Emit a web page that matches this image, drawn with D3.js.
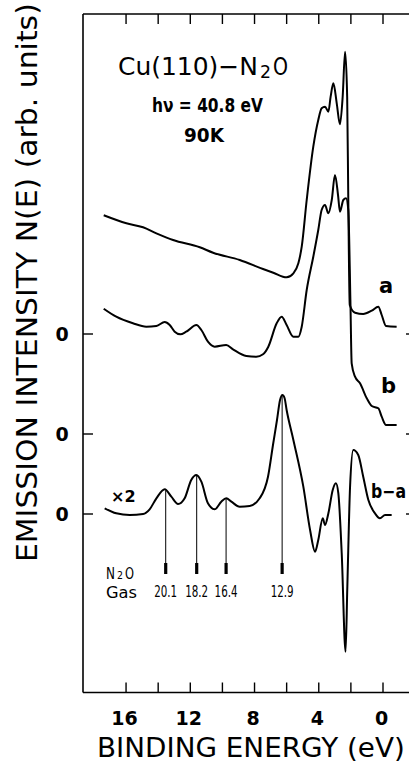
<!DOCTYPE html>
<html>
<head>
<meta charset="utf-8">
<script src="https://cdn.jsdelivr.net/npm/d3@7"></script>
<style>
  html, body { margin: 0; padding: 0; background: #fff; }
  svg { display: block; }
  text { fill: #000; font-family: "DejaVu Sans", sans-serif; }
</style>
</head>
<body>
<svg id="chart" width="409" height="763"></svg>
<script>
// ---------- DATA (binding energy in eV, intensity in arb. units above each curve's zero) ----------
const energyTicks = [16, 14, 12, 10, 8, 6, 4, 2, 0];
const energyTickLabels = [16, 12, 8, 4, 0];

// curve a : clean Cu(110)
const curveA = [
  [17.36, 11.87], [15.95, 11.07], [14.91, 10.67], [14.08, 10.07], [13.04, 9.40],
  [11.38, 8.67], [10.55, 8.13], [8.89, 7.40], [7.44, 6.50], [6.80, 6.13],
  [5.97, 5.67], [5.55, 6.07], [5.24, 7.07], [5.03, 8.73], [4.72, 13.4],
  [4.31, 18.73], [4.00, 21.4], [3.79, 22.57], [3.58, 22.73], [3.37, 22.23],
  [3.23, 23.73], [3.06, 25.07], [2.85, 23.07], [2.65, 20.97], [2.48, 23.73],
  [2.33, 28.23], [2.20, 23.73], [2.13, 13.4], [2.04, 2.9], [1.71, 2.13],
  [1.20, 2.00], [0.67, 2.33], [0.26, 2.73], [0.05, 1.90], [-0.22, 0.80], [-0.88, 0.73]
];

// curve b : Cu(110) + N2O at 90 K
const curveB = [
  [17.36, 12.53], [16.58, 11.73], [15.54, 11.07], [14.71, 10.73], [14.08, 10.80],
  [13.56, 11.20], [13.25, 10.90], [12.94, 10.23], [12.59, 9.97], [12.22, 10.23],
  [11.59, 10.90], [11.28, 10.40], [10.87, 9.23], [10.45, 8.73], [9.73, 8.90],
  [9.31, 8.47], [8.48, 7.80], [7.86, 7.73], [7.44, 7.97], [7.11, 8.73],
  [6.59, 11.07], [6.28, 11.73], [5.97, 10.90], [5.55, 9.73], [5.24, 9.73],
  [5.03, 10.73], [4.72, 14.4], [4.31, 17.73], [4.00, 20.4], [3.79, 22.4],
  [3.58, 22.9], [3.37, 22.07], [3.16, 23.4], [2.96, 25.9], [2.77, 23.9],
  [2.65, 22.23], [2.44, 23.4], [2.27, 23.57], [2.13, 22.4], [2.00, 13.4],
  [1.92, 7.07], [1.71, 5.73], [1.40, 5.07], [0.98, 3.57], [0.67, 2.80],
  [0.26, 2.57], [0.05, 1.73], [-0.22, 0.90], [-0.88, 0.90]
];

// difference curve (b - a), x2
const curveBA = [
  [17.30, 0.57], [16.58, 0.07], [15.74, -0.10], [14.91, 0.00], [14.50, 0.47],
  [14.08, 1.57], [13.56, 2.47], [13.15, 1.73], [12.73, 1.00], [12.32, 1.57],
  [11.91, 3.40], [11.59, 3.90], [11.28, 3.23], [10.87, 1.07], [10.45, 0.47],
  [10.04, 1.23], [9.73, 1.57], [9.41, 1.23], [8.89, 0.73], [8.27, 0.80],
  [7.65, 1.57], [7.13, 3.73], [6.82, 6.90], [6.57, 9.40], [6.38, 11.4],
  [6.23, 11.9], [6.10, 11.6], [5.97, 10.4], [5.55, 7.40], [4.93, 2.73],
  [4.51, -1.60], [4.20, -3.77], [4.00, -2.60], [3.72, -0.43], [3.58, -1.10],
  [3.37, 0.07], [3.10, 2.40], [2.90, 3.07], [2.75, 2.07], [2.54, -3.93],
  [2.30, -13.77], [2.19, -7.27], [2.02, 2.73], [1.82, 6.40], [1.51, 5.90],
  [1.20, 3.73], [0.88, 1.40], [0.47, 0.07], [0.16, -0.43], [-0.16, -0.10], [-0.57, -0.10]
];

// zero offsets of the stacked curves
const curveNames = ["a", "b", "b\u2212a"];
const curveOffsets = [18, 8, 0];

// gas-phase N2O ionisation energies and their positions on the scale
const gasEnergies = [13.5, 11.57, 9.74, 6.25];
const gasLabels = ["20.1", "18.2", "16.4", "12.9"];

// ---------- DRAWING ----------
const svg = d3.select("#chart");
const x = d3.scaleLinear().domain([18.65, -1.65]).range([83, 409]);
const y = d3.scaleLinear().domain([-17.85, 50]).range([692.5, 14]);

const curves = [curveA, curveB, curveBA];

// text squeezed horizontally to a given width (condensed look)
function fitText(str, tx, ty, size, width, opts = {}) {
  const t = svg.append("text").attr("font-size", size).text(str);
  if (opts.bold) t.attr("font-weight", "bold");
  if (opts.anchor) t.attr("text-anchor", opts.anchor);
  const w = t.node().getComputedTextLength();
  const sx = width / w;
  const rot = opts.rotate ? ` rotate(${opts.rotate})` : "";
  t.attr("transform", `translate(${tx},${ty})${rot} scale(${sx},1)`);
  return t;
}

// frame
const frame = svg.append("g").attr("stroke", "#000").attr("stroke-width", 1.6).attr("fill", "none");
frame.append("line").attr("x1", x(18.65)).attr("x2", x(18.65)).attr("y1", y(50)).attr("y2", y(-17.85));
frame.append("line").attr("x1", x(18.65)).attr("x2", x(-1.65)).attr("y1", y(50)).attr("y2", y(50));
frame.append("line").attr("x1", x(18.65)).attr("x2", x(-1.65)).attr("y1", y(-17.85)).attr("y2", y(-17.85));

// bottom axis (inward ticks)
const xAxisB = d3.axisTop(x).tickValues(energyTicks).tickSize(10).tickFormat("");
const gB = svg.append("g").attr("transform", `translate(0,${y(-17.85)})`).call(xAxisB);
gB.select(".domain").remove();
gB.selectAll("line").attr("stroke", "#000").attr("stroke-width", 1.4);

// top axis (inward ticks)
const xAxisT = d3.axisBottom(x).tickValues(energyTicks).tickSize(10).tickFormat("");
const gT = svg.append("g").attr("transform", `translate(0,${y(50)})`).call(xAxisT);
gT.select(".domain").remove();
gT.selectAll("line").attr("stroke", "#000").attr("stroke-width", 1.4);

// tick labels
svg.append("g").selectAll("text").data(energyTickLabels).join("text")
  .attr("x", d => x(d) - 1)
  .attr("y", 725)
  .attr("text-anchor", "middle")
  .attr("font-size", 19)
  .attr("font-weight", "bold")
  .text(d => d);

// zero ticks and labels
curveOffsets.forEach(off => {
  svg.append("line").attr("x1", x(18.65)).attr("x2", x(18.65) + 10)
    .attr("y1", y(off)).attr("y2", y(off)).attr("stroke", "#000").attr("stroke-width", 1.4);
  svg.append("line").attr("x1", 406).attr("x2", 409)
    .attr("y1", y(off)).attr("y2", y(off)).attr("stroke", "#000").attr("stroke-width", 1.4);
  svg.append("text").attr("x", 62).attr("y", y(off) + 7).attr("text-anchor", "middle")
    .attr("font-size", 19).attr("font-weight", "bold").text("0");
});

// curves
const line = d3.line()
  .x(d => x(d[0]))
  .y(d => d.y)
  .curve(d3.curveMonotoneX);

curves.forEach((c, i) => {
  const pts = c.map(p => { const q = [p[0], p[1]]; q.y = y(p[1] + curveOffsets[i]); return q; });
  svg.append("path").attr("d", line(pts))
    .attr("fill", "none").attr("stroke", "#000").attr("stroke-width", 2)
    .attr("stroke-linejoin", "round");
});

// gas-phase lines
function interpBA(e) {
  for (let i = 0; i < curveBA.length - 1; i++) {
    const a = curveBA[i], b = curveBA[i + 1];
    if (e <= a[0] && e >= b[0]) {
      const t = (a[0] - e) / (a[0] - b[0]);
      return a[1] + t * (b[1] - a[1]);
    }
  }
  return 0;
}
gasEnergies.forEach((e, i) => {
  const top = interpBA(e);
  svg.append("line").attr("x1", x(e)).attr("x2", x(e))
    .attr("y1", y(top)).attr("y2", y(-4.9)).attr("stroke", "#000").attr("stroke-width", 1);
  svg.append("line").attr("x1", x(e)).attr("x2", x(e))
    .attr("y1", y(-4.9)).attr("y2", y(-6.0)).attr("stroke", "#000").attr("stroke-width", 3.2);
  fitText(gasLabels[i], x(e), 597, 16, 23, { anchor: "middle" });
});

// N2O Gas label
fitText("N", 106, 579, 16, 9);
fitText("2", 117, 579, 10, 6);
fitText("O", 125, 579, 16, 9);
fitText("Gas", 106, 598, 16, 31);

// curve labels
svg.append("text").attr("x", 379).attr("y", 293).attr("font-size", 21).attr("font-weight", "bold").text(curveNames[0]);
svg.append("text").attr("x", 381).attr("y", 393).attr("font-size", 21).attr("font-weight", "bold").text(curveNames[1]);
fitText(curveNames[2], 371, 498, 19, 35, { bold: true });
svg.append("text").attr("x", 111).attr("y", 502).attr("font-size", 16).attr("font-weight", "bold").text("\u00d72");

// title block
fitText("Cu(110)\u2212N", 118, 75, 25, 140);
fitText("2", 260, 78, 17, 11);
fitText("O", 273, 75, 25, 15);
fitText("h\u03bd = 40.8 eV", 152, 112, 19, 111, { bold: true });
fitText("90K", 184, 142, 19, 40, { bold: true });

// axis titles
fitText("EMISSION INTENSITY N(E)  (arb. units)", 37, 562, 29, 559, { rotate: -90 });
fitText("BINDING ENERGY (eV)", 97, 757, 27, 308);
</script>
</body>
</html>
